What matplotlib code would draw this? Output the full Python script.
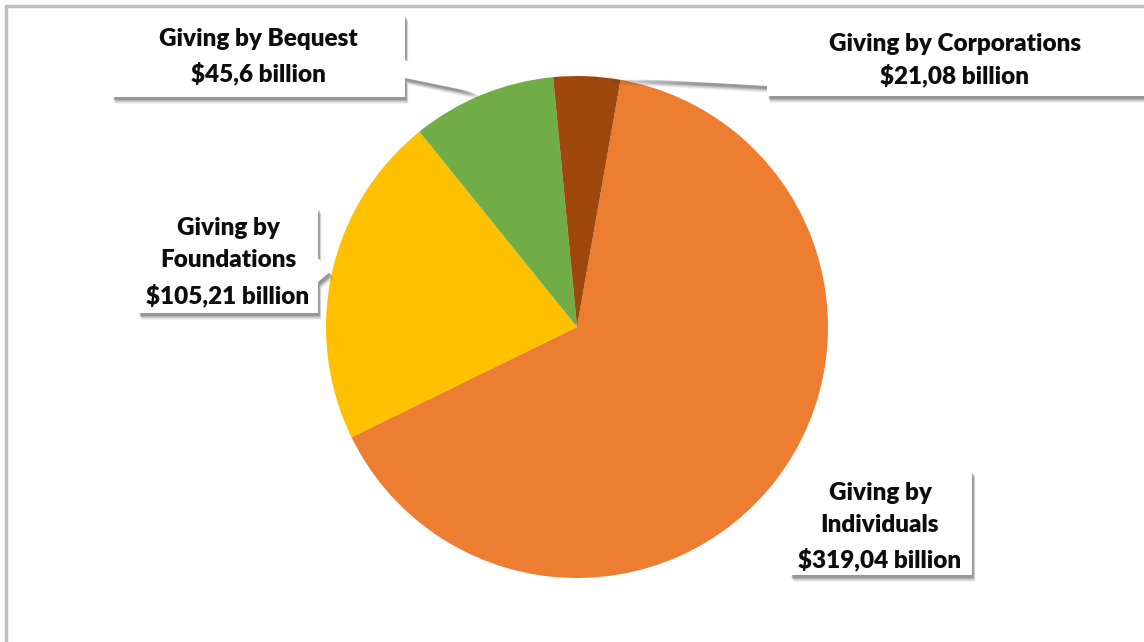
import matplotlib
matplotlib.use("Agg")
import matplotlib.pyplot as plt
from matplotlib.patches import Polygon

plt.rcParams['font.family'] = ['Lato', 'DejaVu Sans']

# giving totals, billions of dollars
categories = ["Individuals", "Foundations", "Bequest", "Corporations"]
values = [319.04, 105.21, 45.6, 21.08]
value_text = ["$319,04 billion", "$105,21 billion", "$45,6 billion", "$21,08 billion"]
colors = ["#ED7D31", "#FFC000", "#70AD47", "#9E480E"]

W, H = 1144, 642
fig = plt.figure(figsize=(W / 100, H / 100), dpi=100)
fig.patch.set_facecolor("white")

# pie area (pixel center 577,327 radius 251)
cx, cy, r = 577, 327, 251
ax = fig.add_axes([(cx - r) / W, (H - cy - r) / H, 2 * r / W, 2 * r / H])
ax.pie(values, colors=colors, startangle=80, counterclock=False,
       wedgeprops=dict(linewidth=0))
ax.set_xlim(-1, 1)
ax.set_ylim(-1, 1)
ax.axis("off")

# overlay in pixel coordinates for the callouts and frame
ov = fig.add_axes([0, 0, 1, 1], zorder=5)
ov.set_xlim(0, W)
ov.set_ylim(H, 0)
ov.axis("off")
ov.patch.set_alpha(0)

ov.plot([6, 6, W], [H, 6, 6], color="#bfbfbf", lw=2.5, solid_capstyle="butt")

# callout outlines: box with a pointer toward its slice
callouts = {
    "Bequest": dict(pts=[(112, 14), (405, 14), (405, 60), (478, 93), (405, 78), (405, 97), (112, 97)],
                    x=258, ys=[39, 73]),
    "Corporations": dict(pts=[(767, 22), (1144, 22), (1144, 96), (767, 96), (767, 86), (605, 77), (767, 76)],
                         x=955, ys=[44, 75]),
    "Foundations": dict(pts=[(138, 207), (318, 207), (318, 258), (330, 272), (318, 282), (318, 313), (138, 313)],
                        x=228, ys=[228, 260, 295]),
    "Individuals": dict(pts=[(790, 470), (972, 470), (972, 575), (790, 575), (790, 494), (785, 470)],
                        x=880, ys=[493, 525, 559]),
}

for name, val in zip(categories, value_text):
    c = callouts[name]
    pts = c["pts"]
    # soft drop shadow
    for k, a in [(7, 0.05), (6, 0.07), (5, 0.09), (4, 0.12), (3, 0.15)]:
        sh = [(px + k * 0.5, py + k) for px, py in pts]
        ov.add_patch(Polygon(sh, closed=True, facecolor="black", edgecolor="none", alpha=a))
    ov.add_patch(Polygon(pts, closed=True, facecolor="white", edgecolor="none"))
    if len(c["ys"]) == 2:
        lines = ["Giving by " + name, val]
    else:
        lines = ["Giving by", name, val]
    for txt, y in zip(lines, c["ys"]):
        ov.text(c["x"], y, txt, ha="center", va="center", fontsize=17.5,
                fontweight="heavy", color="#0d0d0d")

fig.savefig("out.png", dpi=100, facecolor="white")
